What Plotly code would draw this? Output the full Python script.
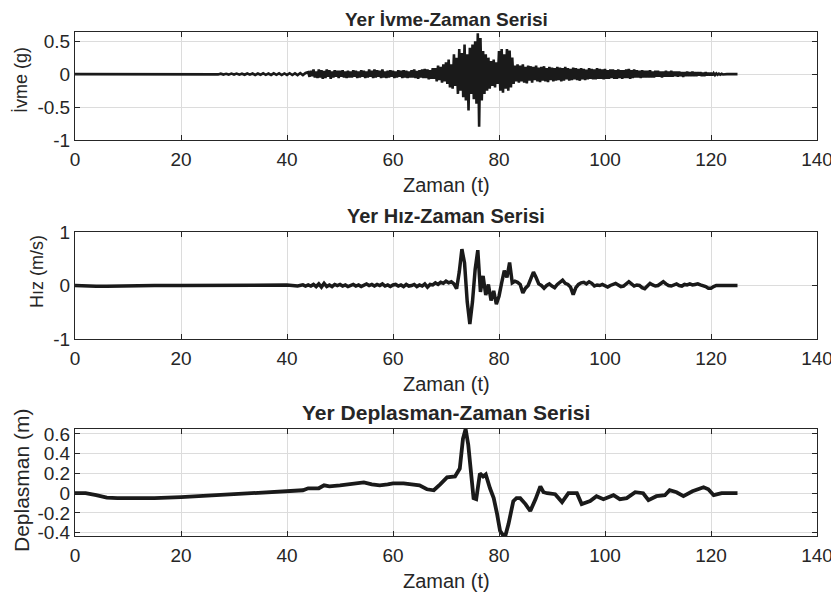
import numpy as np
import plotly.graph_objects as go

W, H = 839, 598
OFF = 8  # default page body margin in the browser

# ---------------- data ----------------
# Acceleration (g)
acc_pre_t = [0, 25]
acc_pre_v = [0, 0]
acc_quiet_start, acc_quiet_step = 25.5, 0.5
acc_quiet_v = [
    0.004, -0.005, 0.006, -0.004, 0.007, -0.006, 0.005, -0.007,
    0.008, -0.006, 0.009, -0.008, 0.007, -0.009, 0.010, -0.008,
    0.010, -0.012, 0.009, -0.010, 0.012, -0.011, 0.010, -0.012,
    0.013, -0.010, 0.012, -0.014, 0.011, -0.012, 0.014, -0.013,
    0.012, -0.015, 0.016, -0.014, 0.018,
]
acc_start, acc_step = 44.0, 0.25
acc_v = [
    0.03, -0.04, 0.05, -0.03, 0.07, -0.05, 0.04, -0.06,
    0.07, -0.05, 0.06, -0.07, 0.05, -0.06, 0.07, -0.04,
    0.06, -0.07, 0.04, -0.05, 0.06, -0.04, 0.05, -0.06,
    0.05, -0.04, 0.06, -0.05, 0.04, -0.06, 0.05, -0.05,
    0.04, -0.05, 0.06, -0.04, 0.05, -0.06, 0.04, -0.05,
    0.06, -0.04, 0.05, -0.06, 0.04, -0.05, 0.07, -0.04,
    0.05, -0.06, 0.07, -0.05, 0.06, -0.04, 0.05, -0.06,
    0.07, -0.05, 0.04, -0.06, 0.05, -0.05, 0.06, -0.04,
    0.05, -0.06, 0.04, -0.05, 0.06, -0.04, 0.05, -0.06,
    0.06, -0.05, 0.05, -0.06, 0.04, -0.05, 0.06, -0.05,
    0.07, -0.06, 0.05, -0.07, 0.06, -0.05, 0.07, -0.06,
    0.08, -0.06, 0.07, -0.08, 0.06, -0.07, 0.09, -0.07,
    0.09, -0.11, 0.13, -0.09, 0.11, -0.13, 0.15, -0.11,
    0.18, -0.15, 0.22, -0.20, 0.15, -0.22, 0.30, -0.18,
    0.25, -0.30, 0.38, -0.25, 0.32, -0.35, 0.45, -0.40,
    0.30, -0.55, 0.40, -0.30, 0.45, -0.38, 0.50, -0.45,
    0.62, -0.80, 0.55, -0.40, 0.35, -0.30, 0.30, -0.25,
    0.25, -0.22, 0.20, -0.18, 0.22, -0.20, 0.18, -0.15,
    0.35, -0.25, 0.38, -0.28, 0.30, -0.22, 0.38, -0.25,
    0.36, -0.20, 0.25, -0.15, 0.13, -0.11, 0.15, -0.13,
    0.13, -0.11, 0.15, -0.13, 0.11, -0.14, 0.13, -0.10,
    0.12, -0.13, 0.11, -0.09, 0.13, -0.11, 0.10, -0.12,
    0.11, -0.10, 0.12, -0.11, 0.09, -0.12, 0.11, -0.09,
    0.10, -0.11, 0.09, -0.10, 0.11, -0.09, 0.10, -0.11,
    0.09, -0.10, 0.11, -0.08, 0.09, -0.10, 0.08, -0.09,
    0.10, -0.08, 0.09, -0.09, 0.08, -0.10, 0.09, -0.08,
    0.08, -0.09, 0.07, -0.08, 0.09, -0.07, 0.08, -0.08,
    0.07, -0.08, 0.09, -0.07, 0.08, -0.07, 0.07, -0.08,
    0.08, -0.07, 0.06, -0.07, 0.07, -0.06, 0.07, -0.07,
    0.06, -0.07, 0.07, -0.06, 0.06, -0.07, 0.06, -0.06,
    0.07, -0.06, 0.08, -0.07, 0.06, -0.06, 0.07, -0.05,
    0.06, -0.05, 0.05, -0.06, 0.06, -0.05, 0.05, -0.05,
    0.05, -0.05, 0.06, -0.05, 0.04, -0.05, 0.05, -0.04,
    0.05, -0.04, 0.04, -0.05, 0.04, -0.04, 0.05, -0.04,
    0.04, -0.04, 0.05, -0.04, 0.04, -0.03, 0.04, -0.04,
    0.04, -0.03, 0.03, -0.04, 0.03, -0.03, 0.04, -0.03,
    0.03, -0.03, 0.04, -0.03, 0.03, -0.03, 0.03, -0.02,
    0.03, -0.03, 0.02, -0.03, 0.03, -0.02, 0.02, -0.02,
    0.02, -0.02, 0.015, -0.015, 0.01, -0.01, 0.008, -0.008,
    0.005, -0.005, 0.0, 0.0, 0.0, 0.0, 0.0, 0.0,
    0.0, 0.0, 0.0, 0.0, 0.0,
]

# Velocity (m/s)
vel_pre_t = [0, 2, 4, 6, 8, 10, 15, 20, 25, 30, 35, 38, 40, 42, 43, 43.5]
vel_pre_v = [0, -0.01, -0.015, -0.012, -0.006, 0, 0, 0.002, 0.004, -0.003,
             0.006, -0.006, 0.008, -0.008, 0.012, -0.01]
vel_start, vel_step = 44.0, 0.5
vel_v = [
    0.01, -0.01, 0.02, -0.02, 0.03, -0.03, 0.04, -0.02,
    0.01, -0.02, 0.02, 0.00, 0.02, -0.01, 0.01, -0.02,
    0.00, 0.02, -0.01, 0.01, -0.02, 0.01, 0.03, 0.00,
    0.02, -0.01, 0.02, 0.00, 0.03, -0.01, 0.01, -0.02,
    0.01, 0.02, -0.01, 0.01, -0.02, 0.02, -0.01, 0.00,
    0.02, -0.02, 0.01, -0.01, 0.03, -0.03, 0.02, 0.01,
    0.05, 0.02, 0.06, 0.04, 0.08, 0.05, 0.07, 0.03,
    -0.06, 0.25, 0.68, 0.42, -0.30, -0.72, -0.30, 0.30,
    0.66, -0.12, 0.18, -0.18, 0.02, -0.28, -0.10, -0.35,
    -0.20, 0.05, 0.28, 0.15, 0.43, 0.05, 0.08, 0.06,
    0.02, -0.14, -0.05, 0.00, 0.12, 0.25, 0.15, 0.03,
    0.00, -0.05, 0.00, 0.03, -0.01, -0.04, 0.02, 0.07,
    0.10, 0.04, 0.02, -0.03, -0.17, -0.04, 0.02, 0.05,
    0.06, 0.03, 0.07, 0.04, -0.01, 0.01, 0.00, 0.02,
    -0.01, -0.03, 0.00, 0.02, 0.04, 0.01, -0.02, -0.01,
    0.03, 0.07, 0.03, -0.01, 0.01, 0.00, -0.04, -0.06,
    -0.01, 0.04, 0.01, -0.01, 0.00, 0.04, 0.07, 0.03,
    0.00, -0.01, 0.01, 0.03, 0.00, -0.01, 0.02, 0.01,
    0.03, 0.01, 0.02, 0.03, 0.01, 0.00, -0.02, -0.05,
    -0.05, -0.02, 0.00, 0.00, 0.00, 0.00, 0.00, 0.00,
    0.0, 0.0, 0.0,
]

# Displacement (m)
disp_t = [
    0, 2, 4, 6, 8, 10, 15, 20, 25, 30,
    35, 40, 42, 43, 44, 45, 46, 47, 48, 50,
    52, 54.5, 56, 57.5, 59, 60, 62, 64, 65, 66.4,
    67.7, 68.9, 70.2, 71.7, 72.6, 73.2, 73.7, 74.2, 74.7, 75.2,
    75.7, 76.4, 77.0, 77.5, 78.3, 79.0, 79.6, 80.2, 80.7, 81.2,
    81.8, 82.3, 82.7, 83.3, 84, 85, 85.9, 86.9, 87.8, 88.4,
    89.1, 90.6, 91.9, 93.1, 94.0, 94.7, 95.6, 97.2, 98.4, 99.7,
    101.6, 102.8, 104.1, 105.7, 107.2, 108.2, 109.7, 111.3, 112.2, 113.5,
    114.8, 116.5, 118.6, 119.5, 120.5, 122, 125,
]
disp_v = [
    0, 0, -0.02, -0.045, -0.05, -0.05, -0.05, -0.04, -0.025, -0.01,
    0.0, 0.02, 0.02, 0.03, 0.05, 0.05, 0.05, 0.08, 0.07, 0.08,
    0.09, 0.11, 0.09, 0.08, 0.09, 0.10, 0.10, 0.09, 0.08, 0.04,
    0.03, 0.09, 0.16, 0.17, 0.25, 0.55, 0.65, 0.49, 0.20, -0.05,
    -0.06, 0.20, 0.17, 0.19, 0.05, -0.05, -0.20, -0.38, -0.42, -0.43,
    -0.31, -0.15, -0.08, -0.05, -0.05, -0.11, -0.18, -0.06, 0.07, 0.01,
    0.0, -0.01, -0.09, 0.0, 0.0, 0.0, -0.11, -0.08, -0.03, -0.06,
    -0.02, -0.06, -0.05, 0.01, 0.0, -0.07, -0.03, -0.02, 0.03, 0.01,
    -0.03, 0.02, 0.06, 0.04, -0.02, 0.0, 0.0,
]

titles = ["Yer İvme-Zaman Serisi", "Yer Hız-Zaman Serisi", "Yer Deplasman-Zaman Serisi"]
ylabels = ["İvme (g)", "Hız (m/s)", "Deplasman (m)"]
xlabel = "Zaman (t)"
x_ticks = [0, 20, 40, 60, 80, 100, 120, 140]
y_ticks = [[-1, -0.5, 0, 0.5], [-1, 0, 1], [-0.4, -0.2, 0, 0.2, 0.4, 0.6]]
y_ticktext = [["-1", "-0.5", "0", "0.5"], ["-1", "0", "1"],
              ["-0.4", "-0.2", "0", "0.2", "0.4", "0.6"]]
y_ranges = [[-1, 0.64], [-1, 1], [-0.433, 0.65]]

# ---------------- build ----------------
acc_t = (list(acc_pre_t)
         + list(acc_quiet_start + acc_quiet_step * np.arange(len(acc_quiet_v)))
         + list(acc_start + acc_step * np.arange(len(acc_v))))
acc_all = list(acc_pre_v) + acc_quiet_v + acc_v
vel_t = list(vel_pre_t) + list(vel_start + vel_step * np.arange(len(vel_v)))
vel_all = list(vel_pre_v) + vel_v

TXT = "#262626"
FONT = "Liberation Sans, Arial, Helvetica, sans-serif"
LINE = "#1a1a1a"
TICK_SIZE = 19
TITLE_SIZES = [19, 20, 21]
XLABEL_SIZE = 20
YLABEL_SIZES = [18, 18, 21]

FW, FH = W - OFF, H - OFF


def fx(px):
    return (px - OFF) / FW


def fy(py):
    return 1 - (py - OFF) / FH


left_px, right_px = 75, 817
boxes = [(32, 140), (232, 339), (429, 536)]
title_y = [19, 216, 413]

fig = go.Figure()
series = [(acc_t, acc_all, 2.6), (vel_t, vel_all, 3.5), (disp_t, disp_v, 3.8)]
for i, (tx, vy, lw) in enumerate(series):
    sfx = "" if i == 0 else str(i + 1)
    fig.add_trace(go.Scatter(x=tx, y=vy, mode="lines",
                             line=dict(color=LINE, width=lw),
                             xaxis="x" + sfx, yaxis="y" + sfx,
                             showlegend=False, hoverinfo="skip"))

layout = dict(
    width=FW, height=FH,
    margin=dict(l=0, r=0, t=0, b=0, autoexpand=False),
    paper_bgcolor="white", plot_bgcolor="white",
    font=dict(family=FONT, color=TXT, size=TICK_SIZE),
    showlegend=False,
)
ann = []
xd = [fx(left_px), fx(right_px)]
xc = fx((left_px + right_px) / 2)
for i, (top, bot) in enumerate(boxes):
    sfx = "" if i == 0 else str(i + 1)
    yd = [fy(bot), fy(top)]
    common = dict(
        ticks="inside", ticklen=5, tickwidth=1, tickcolor=TXT,
        showline=True, linecolor=TXT, linewidth=1, mirror="ticks",
        showgrid=True, gridcolor="#dcdcdc", gridwidth=1, zeroline=False,
        tickfont=dict(size=TICK_SIZE, color=TXT, family=FONT), automargin=False,
    )
    layout["xaxis" + sfx] = dict(
        domain=xd, anchor="y" + sfx, range=[0, 140],
        tickmode="array", tickvals=x_ticks, ticktext=[str(v) for v in x_ticks],
        ticklabelstandoff=2, **common)
    layout["yaxis" + sfx] = dict(
        domain=yd, anchor="x" + sfx, range=y_ranges[i],
        tickmode="array", tickvals=y_ticks[i], ticktext=y_ticktext[i],
        ticklabelstandoff=0, **common)
    ann.append(dict(text="<b>" + titles[i] + "</b>", x=xc,
                    y=fy(title_y[i]), xref="paper", yref="paper",
                    xanchor="center", yanchor="middle", showarrow=False,
                    font=dict(size=TITLE_SIZES[i], color=TXT, family=FONT)))
    ann.append(dict(text=xlabel, x=xc,
                    y=fy(bot + 45), xref="paper", yref="paper",
                    xanchor="center", yanchor="middle", showarrow=False,
                    font=dict(size=XLABEL_SIZE, color=TXT, family=FONT)))
ylab_x = [21, 37, 21]
ylab_y = [80, 272, 480]
for i in range(3):
    ann.append(dict(text=ylabels[i], x=fx(ylab_x[i]), y=fy(ylab_y[i]),
                    xref="paper", yref="paper", xanchor="center", yanchor="middle",
                    textangle=-90, showarrow=False,
                    font=dict(size=YLABEL_SIZES[i], color=TXT, family=FONT)))
layout["annotations"] = ann
fig.update_layout(**layout)
fig.write_html("out.html")
